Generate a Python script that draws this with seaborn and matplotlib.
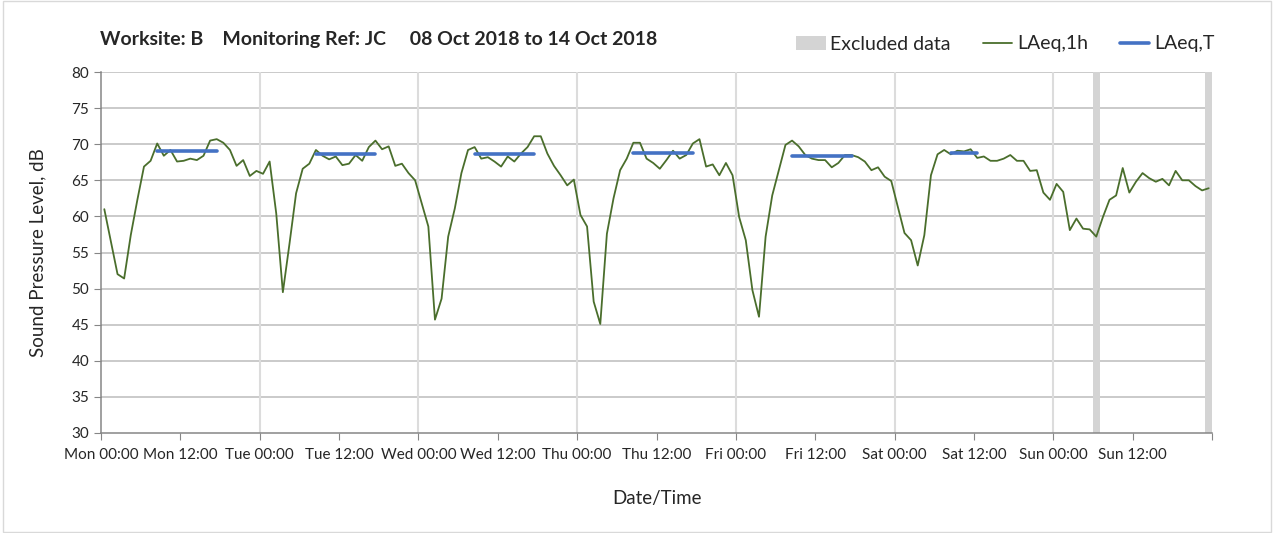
import numpy as np
import pandas as pd
import matplotlib
matplotlib.use("Agg")
import matplotlib.pyplot as plt
from matplotlib.patches import Patch, Rectangle
from matplotlib.lines import Line2D
import seaborn as sns

# Hourly LAeq,1h values, Mon 00:00 -> Sun 23:00
laeq_1h = [
    61.0, 56.5, 52.0, 51.4, 57.4, 62.3, 66.9, 67.7, 70.1, 68.4, 69.2, 67.6,
    67.7, 68.0, 67.8, 68.4, 70.5, 70.7, 70.2, 69.2, 67.0, 67.8, 65.6, 66.3,
    65.9, 67.6, 60.4, 49.5, 56.2, 63.2, 66.6, 67.3, 69.2, 68.4, 67.9, 68.3,
    67.1, 67.3, 68.5, 67.7, 69.6, 70.5, 69.3, 69.7, 67.0, 67.3, 66.0, 65.0,
    61.8, 58.6, 45.7, 48.6, 57.2, 61.1, 66.0, 69.2, 69.6, 68.0, 68.2, 67.6,
    66.9, 68.3, 67.6, 68.7, 69.6, 71.1, 71.1, 68.7, 67.0, 65.7, 64.3, 65.1,
    60.2, 58.6, 48.2, 45.1, 57.6, 62.5, 66.4, 68.0, 70.2, 70.2, 68.0, 67.4,
    66.6, 67.8, 69.1, 68.0, 68.5, 70.1, 70.7, 66.9, 67.2, 65.7, 67.4, 65.7,
    59.9, 56.7, 49.8, 46.1, 57.2, 62.9, 66.4, 69.9, 70.5, 69.7, 68.5, 68.0,
    67.8, 67.8, 66.8, 67.4, 68.5, 68.5, 68.2, 67.6, 66.4, 66.8, 65.5, 64.9,
    61.3, 57.7, 56.7, 53.2, 57.4, 65.7, 68.6, 69.2, 68.6, 69.1, 69.0, 69.3,
    68.1, 68.3, 67.7, 67.7, 68.0, 68.5, 67.7, 67.7, 66.3, 66.4, 63.3, 62.3,
    64.5, 63.4, 58.1, 59.7, 58.3, 58.2, 57.2, 59.9, 62.3, 62.9, 66.7, 63.3,
    64.8, 66.0, 65.3, 64.8, 65.2, 64.3, 66.3, 65.0, 65.0, 64.2, 63.6, 63.9,
]

# LAeq,T daytime periods (first and last hour index) and level
lt_start = [8, 32, 56, 80, 104, 128]
lt_end = [17, 41, 65, 89, 113, 132]
lt_value = [69.0, 68.6, 68.7, 68.8, 68.4, 68.8]

# Excluded hours
excluded_hours = [150, 167]

days = ["Mon", "Tue", "Wed", "Thu", "Fri", "Sat", "Sun"]
tick_labels = [f"{d} {t}" for d in days for t in ("00:00", "12:00")]

green = "#4a6e2c"
blue = "#4472c4"
grey = "#d4d4d4"

sns.set_style("white")
plt.rcParams["font.family"] = ["Lato", "DejaVu Sans"]

hourly = pd.DataFrame({"hour": np.arange(len(laeq_1h)) + 0.5, "level": laeq_1h})
rows = []
for k, (s, e, v) in enumerate(zip(lt_start, lt_end, lt_value)):
    for h in range(s, e + 1):
        rows.append({"period": k, "hour": h + 0.5, "level": v})
periods = pd.DataFrame(rows)

fig = plt.figure(figsize=(12.74, 5.33), dpi=100)
ax = fig.add_axes([101 / 1274, 1 - 433 / 533, 1111 / 1274, 361 / 533])

for h in excluded_hours:
    ax.axvspan(h, h + 1, color=grey, lw=0, zorder=1)

sns.lineplot(data=hourly, x="hour", y="level", color=green, lw=1.3, ax=ax, zorder=3)
sns.lineplot(data=periods, x="hour", y="level", units="period", estimator=None,
             color=blue, lw=2.6, ax=ax, zorder=4)

ax.set_xlim(0, 168)
ax.set_ylim(30, 80)
ax.set_xticks(np.arange(0, 169, 12))
ax.set_xticklabels(tick_labels + [""], fontsize=11)
ax.set_yticks(np.arange(30, 81, 5))
ax.tick_params(axis="y", labelsize=11, length=5, color="#868686", direction="out", left=True)
ax.tick_params(axis="x", length=5, color="#868686", direction="out", bottom=True, pad=6)

for y in np.arange(35, 81, 5):
    ax.axhline(y, color="#bcbcbc", lw=1.1, zorder=0)
for d in range(1, 7):
    ax.axvline(d * 24, color="#dcdcdc", lw=1.5, zorder=0)

for side in ("top", "right"):
    ax.spines[side].set_visible(False)
for side in ("left", "bottom"):
    ax.spines[side].set_color("#868686")
    ax.spines[side].set_linewidth(1.1)

ax.set_xlabel("Date/Time", fontsize=13.5, labelpad=20)
ax.set_ylabel("Sound Pressure Level, dB", fontsize=13.5, labelpad=18)

fig.text(100 / 1274, 1 - 40 / 533, "Worksite: B    Monitoring Ref: JC     08 Oct 2018 to 14 Oct 2018",
         fontsize=14, fontweight="bold", va="center")

handles = [Patch(facecolor=grey, edgecolor="none"),
           Line2D([], [], color=green, lw=1.3),
           Line2D([], [], color=blue, lw=2.6)]
fig.legend(handles, ["Excluded data", "LAeq,1h", "LAeq,T"], loc="center right",
           bbox_to_anchor=(1232 / 1274, 1 - 44 / 533), ncol=3, frameon=False,
           fontsize=14, handlelength=1.5, columnspacing=1.65, handletextpad=0.25)

fig.patches.append(Rectangle((0.002, 0.002), 0.996, 0.996, transform=fig.transFigure,
                             fill=False, edgecolor="#d9d9d9", lw=1))

fig.savefig("out.png", dpi=100)
